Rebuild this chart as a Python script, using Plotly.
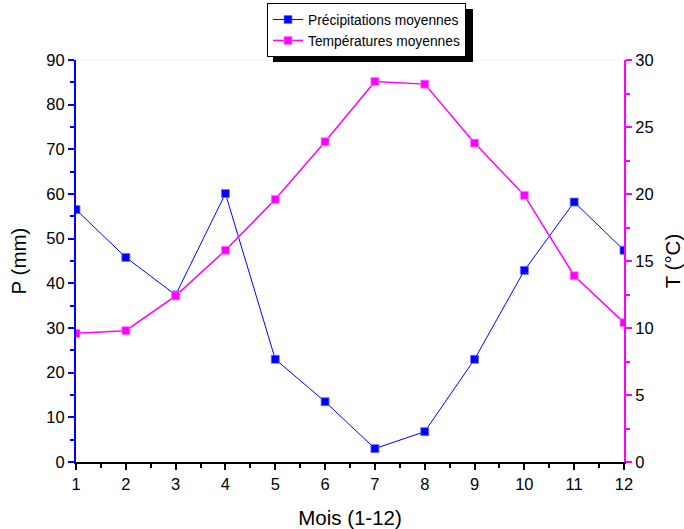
import plotly.graph_objects as go

months = list(range(1, 13))
precip_mm = [56.5, 45.8, 37.4, 60.1, 23.0, 13.5, 3.0, 6.8, 23.0, 42.9, 58.2, 47.4]
temp_c = [9.6, 9.8, 12.4, 15.8, 19.6, 23.9, 28.4, 28.2, 23.8, 19.9, 13.9, 10.4]

BLUE = "#0000ff"
MAGENTA = "#ff00ff"
FONT = "Liberation Sans, Arial, sans-serif"

# plot-area geometry in pixels, used to place the legend and its shadow
L, R, T, B = 76, 624, 60, 462
PW, PH = R - L, B - T

def px_x(x):
    return (x - L) / PW

def px_y(y):
    return (B - y) / PH

fig = go.Figure()
fig.add_trace(go.Scatter(
    x=months, y=precip_mm, name="Précipitations moyennes",
    mode="lines+markers",
    line=dict(color=BLUE, width=1),
    marker=dict(symbol="square", size=8, color=BLUE,
                line=dict(color="#6f6fff", width=0.8)),
    yaxis="y",
))
fig.add_trace(go.Scatter(
    x=months, y=temp_c, name="Températures moyennes",
    mode="lines+markers",
    line=dict(color=MAGENTA, width=1.5),
    marker=dict(symbol="square", size=8, color=MAGENTA,
                line=dict(color="#ff80ff", width=0.8)),
    yaxis="y2",
))

tick_font = dict(family=FONT, size=16.5, color="black")
title_font = dict(family=FONT, size=20.5, color="black")

fig.update_layout(
    width=684, height=529,
    margin=dict(l=L, r=684 - R, t=T, b=529 - B, autoexpand=False),
    paper_bgcolor="white", plot_bgcolor="white",
    showlegend=True,
    legend=dict(
        x=px_x(267), y=px_y(3), xref="paper", yref="paper",
        xanchor="left", yanchor="top",
        bgcolor="white", bordercolor="black", borderwidth=1,
        font=dict(family=FONT, size=13.8, color="black"),
        tracegroupgap=0, itemwidth=30,
    ),
    xaxis=dict(
        range=[1, 12], tickmode="linear", tick0=1, dtick=1,
        showgrid=False, zeroline=False,
        showline=True, linecolor="black", linewidth=2,
        ticks="outside", ticklen=6, tickwidth=1.5, tickcolor="black",
        minor=dict(ticks="outside", ticklen=4, tickwidth=1.5, dtick=0.5,
                   tickcolor="black", showgrid=False),
        tickfont=tick_font, tickangle=0,
        title=dict(text="Mois (1-12)", font=title_font, standoff=20),
    ),
    yaxis=dict(
        range=[0, 90], tickmode="linear", tick0=0, dtick=10,
        showgrid=False, zeroline=False,
        showline=True, linecolor=BLUE, linewidth=2,
        ticks="outside", ticklen=6, tickwidth=1.5, tickcolor=BLUE,
        minor=dict(ticks="outside", ticklen=4, tickwidth=1.5, dtick=5,
                   tickcolor=BLUE, showgrid=False),
        tickfont=tick_font,
        title=dict(text="P (mm)", font=title_font, standoff=14),
    ),
    yaxis2=dict(
        range=[0, 30], tickmode="linear", tick0=0, dtick=5,
        overlaying="y", side="right",
        showgrid=False, zeroline=False,
        showline=True, linecolor=MAGENTA, linewidth=2,
        ticks="outside", ticklen=6, tickwidth=1.5, tickcolor=MAGENTA,
        minor=dict(ticks="outside", ticklen=4, tickwidth=1.5, dtick=2.5,
                   tickcolor=MAGENTA, showgrid=False),
        tickfont=tick_font,
        title=dict(text="T (°C)", font=title_font, standoff=15),
    ),
    shapes=[
        # faint top frame line
        dict(type="line", xref="paper", yref="paper", x0=0, x1=1, y0=1, y1=1,
             line=dict(color="#eeeeee", width=1), layer="below"),
        # legend drop shadow
        dict(type="rect", xref="paper", yref="paper",
             x0=px_x(273), x1=px_x(473), y0=px_y(62), y1=px_y(9),
             fillcolor="black", line=dict(width=0), layer="above"),
    ],
)

fig.write_html("out.html")
